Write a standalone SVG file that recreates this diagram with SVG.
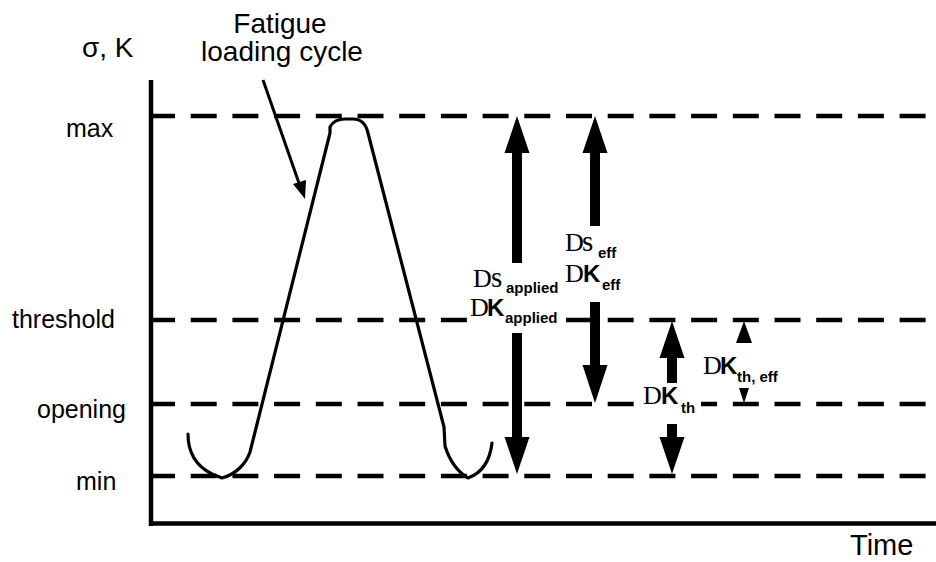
<svg xmlns="http://www.w3.org/2000/svg" width="936" height="562" viewBox="0 0 936 562">
<style>
.lbl{font-family:"Liberation Sans",Arial,sans-serif;fill:#000}
.ser{font-family:"Liberation Serif","Times New Roman",serif;font-size:26px;fill:#000}
.s{font-size:29px}
.kb{font-family:"Liberation Sans",Arial,sans-serif;font-weight:bold;font-size:24px;fill:#000}
.sub{font-family:"Liberation Sans",Arial,sans-serif;font-weight:bold;font-size:15px;fill:#000}
.dash{stroke:#000;stroke-width:4.5;stroke-dasharray:26 15.7;fill:none}
.axis{stroke:#000;stroke-width:4.5;fill:none}
.curve{stroke:#000;stroke-width:3.2;fill:none;stroke-linejoin:round;stroke-linecap:round}
.ah{fill:#000}
</style>
<rect width="936" height="562" fill="#fff"/>
<g id="levels">
<line class="dash" x1="149" y1="116" x2="936" y2="116"/>
<line class="dash" x1="149" y1="320" x2="936" y2="320"/>
<line class="dash" x1="149" y1="404" x2="936" y2="404"/>
<line class="dash" x1="149" y1="476" x2="936" y2="476"/>
</g>
<g id="axes">
<line class="axis" x1="151" y1="80" x2="151" y2="526"/>
<line class="axis" x1="149" y1="523.5" x2="936" y2="523.5"/>
<text class="lbl" x="82" y="57" font-size="28">σ, K</text>
<text class="lbl" x="850" y="555" font-size="29">Time</text>
<text class="lbl" x="66" y="137" font-size="25">max</text>
<text class="lbl" x="12" y="328" font-size="25">threshold</text>
<text class="lbl" x="37" y="418" font-size="25">opening</text>
<text class="lbl" x="76" y="490" font-size="25">min</text>
</g>
<g id="cycle">
<path class="curve" d="M188,434 C188,452 196,466 212,474 L222,478 C236,474 246,464 250,452 L330,133 L330,127 C333,121 338,119 345,119 L353,119 C361,119 366,124 368,133 L444,427 L445,446 C450,462 458,472 468,478 C482,473 490,460 492,443"/>
<text class="lbl" x="280" y="33" font-size="28" text-anchor="middle">Fatigue</text>
<text class="lbl" x="282" y="61" font-size="28" text-anchor="middle">loading cycle</text>
</g>
<g id="connectors">
<line x1="263" y1="80" x2="300" y2="186" stroke="#000" stroke-width="3"/>
<polygon class="ah" points="305,199 293,184 306,180"/>
<polygon class="ah" points="517,116 504.5,153 529.5,153"/>
<rect class="ah" x="512" y="152" width="10" height="111"/>
<rect class="ah" x="512" y="333" width="10" height="105"/>
<polygon class="ah" points="504.5,437 529.5,437 517,474"/>
<polygon class="ah" points="595,116 582.5,153 607.5,153"/>
<rect class="ah" x="590" y="152" width="10" height="74"/>
<rect class="ah" x="590" y="302" width="10" height="64"/>
<polygon class="ah" points="582.5,365 607.5,365 595,403"/>
<polygon class="ah" points="672,321 659.5,358 684.5,358"/>
<rect class="ah" x="667" y="357" width="10" height="26"/>
<rect class="ah" x="667" y="424" width="10" height="14"/>
<polygon class="ah" points="659.5,437 684.5,437 672,474"/>
<polygon class="ah" points="744,321 736,343 752,343"/>
<polygon class="ah" points="739,388 749,388 744,403"/>
</g>
<g id="label-applied">
<rect x="468" y="299" width="91" height="27" fill="#fff"/>
<text class="ser" x="473" y="287">D<tspan class="s" x="491">s</tspan></text>
<text class="sub" x="506" y="293">applied</text>
<text class="ser" x="470" y="316">D</text>
<text class="kb" x="487" y="316">K</text>
<text class="sub" x="505" y="323">applied</text>
</g>
<g id="label-eff">
<text class="ser" x="565" y="251">D<tspan class="s" x="582">s</tspan></text>
<text class="sub" x="598" y="258">eff</text>
<text class="ser" x="565" y="282">D</text>
<text class="kb" x="583" y="282">K</text>
<text class="sub" x="602" y="290">eff</text>
</g>
<g id="label-th">
<rect x="641" y="385" width="60" height="32" fill="#fff"/>
<text class="ser" x="643" y="404">D</text>
<text class="kb" x="661" y="404">K</text>
<text class="sub" x="681" y="413">th</text>
</g>
<g id="label-th-eff">
<text class="ser" x="703" y="374">D</text>
<text class="kb" x="720" y="374">K</text>
<text class="sub" x="737" y="382">th, eff</text>
</g>
</svg>
